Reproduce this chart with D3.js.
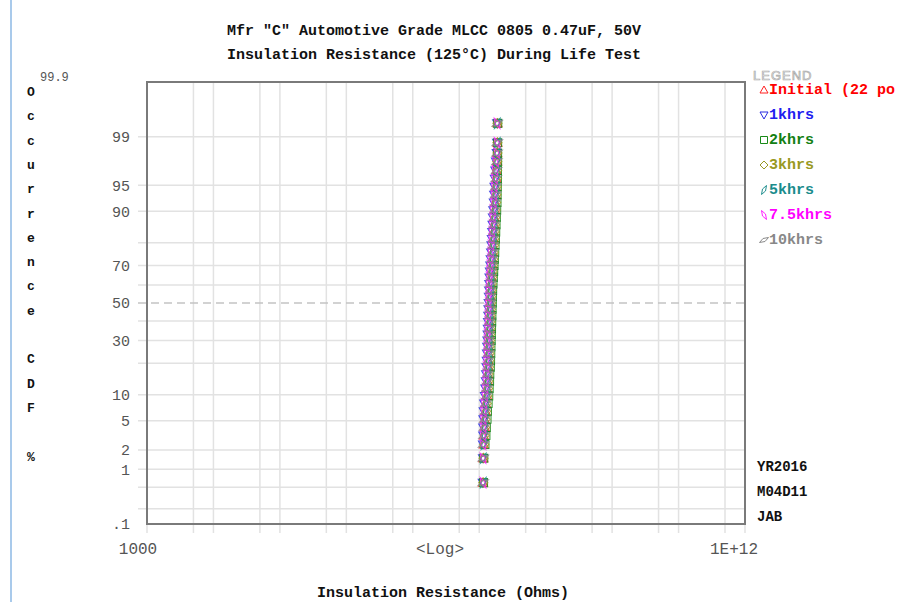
<!DOCTYPE html>
<html>
<head>
<meta charset="utf-8">
<script src="https://cdn.jsdelivr.net/npm/d3@7"></script>
<style>
  html, body { margin: 0; padding: 0; background: #fff; overflow: hidden; }
</style>
</head>
<body>
<svg id="chart" width="898" height="602"></svg>
<script>
// ======================
// DATA
// ======================
// cumulative occurrence (%) of each ranked point, shared by every series
const occurrencePct = [0.6, 1.5, 2.4, 3.2, 4.1, 5.2, 6.5, 8, 9.7, 11.6, 13.7, 16, 18.5, 21, 24, 27,
  30, 33, 36, 39.5, 43, 46.5, 50, 53.5, 57, 60.5, 64, 67, 70, 73, 76, 79, 81.5, 84, 86.3, 88.4,
  90.3, 92, 93.5, 94.8, 95.9, 96.8, 97.6, 98.2, 98.75, 99.4];

// insulation resistance, in units of 1E+08 ohms, sorted low to high
const initialIR = [1.14, 1.15, 1.17, 1.17, 1.21, 1.21, 1.25, 1.26, 1.31, 1.31, 1.35, 1.35, 1.38, 1.38, 1.40, 1.40,
  1.42, 1.42, 1.44, 1.44, 1.46, 1.46, 1.48, 1.48, 1.50, 1.50, 1.53, 1.53, 1.57, 1.57, 1.61, 1.61, 1.65, 1.65,
  1.69, 1.69, 1.73, 1.74, 1.78, 1.78, 1.82, 1.82, 1.86, 1.86, 1.88, 1.88];
const ir1k = [1.13, 1.14, 1.14, 1.15, 1.15, 1.16, 1.17, 1.19, 1.22, 1.24, 1.26, 1.27, 1.29, 1.30, 1.31, 1.32,
  1.33, 1.34, 1.35, 1.36, 1.37, 1.38, 1.39, 1.40, 1.41, 1.42, 1.43, 1.45, 1.47, 1.49, 1.51, 1.53, 1.55, 1.57,
  1.59, 1.61, 1.63, 1.66, 1.68, 1.70, 1.72, 1.75, 1.79, 1.84, 1.86, 1.86];
const ir2k = [1.16, 1.17, 1.22, 1.26, 1.28, 1.31, 1.33, 1.36, 1.39, 1.41, 1.43, 1.44, 1.47, 1.48, 1.49, 1.50,
  1.51, 1.52, 1.53, 1.54, 1.55, 1.56, 1.57, 1.58, 1.59, 1.61, 1.63, 1.65, 1.67, 1.69, 1.71, 1.73, 1.75, 1.77,
  1.79, 1.81, 1.83, 1.85, 1.86, 1.87, 1.88, 1.88, 1.89, 1.89, 1.89, 1.90];
const ir3k = [1.15, 1.16, 1.19, 1.21, 1.23, 1.25, 1.27, 1.30, 1.33, 1.36, 1.38, 1.39, 1.41, 1.42, 1.43, 1.44,
  1.45, 1.46, 1.47, 1.48, 1.49, 1.50, 1.51, 1.52, 1.53, 1.55, 1.57, 1.59, 1.61, 1.63, 1.65, 1.67, 1.69, 1.71,
  1.73, 1.75, 1.77, 1.80, 1.82, 1.84, 1.85, 1.86, 1.87, 1.88, 1.88, 1.88];
const ir5k = [1.15, 1.15, 1.18, 1.20, 1.22, 1.24, 1.26, 1.29, 1.32, 1.34, 1.36, 1.37, 1.39, 1.40, 1.41, 1.42,
  1.43, 1.44, 1.45, 1.46, 1.47, 1.48, 1.49, 1.50, 1.51, 1.52, 1.54, 1.56, 1.58, 1.60, 1.62, 1.64, 1.66, 1.68,
  1.70, 1.72, 1.75, 1.78, 1.80, 1.82, 1.83, 1.85, 1.86, 1.87, 1.87, 1.87];
const ir7500 = [1.14, 1.14, 1.14, 1.14, 1.15, 1.15, 1.16, 1.18, 1.21, 1.23, 1.25, 1.26, 1.27, 1.28, 1.29, 1.30,
  1.31, 1.32, 1.33, 1.34, 1.35, 1.36, 1.37, 1.38, 1.39, 1.40, 1.41, 1.43, 1.45, 1.47, 1.49, 1.51, 1.53, 1.55,
  1.57, 1.59, 1.61, 1.64, 1.66, 1.68, 1.70, 1.73, 1.77, 1.83, 1.86, 1.86];
const ir10k = [1.15, 1.15, 1.16, 1.18, 1.20, 1.21, 1.24, 1.26, 1.30, 1.31, 1.33, 1.35, 1.36, 1.38, 1.39, 1.40,
  1.41, 1.42, 1.43, 1.44, 1.45, 1.46, 1.47, 1.48, 1.49, 1.50, 1.52, 1.54, 1.56, 1.58, 1.60, 1.62, 1.64, 1.66,
  1.68, 1.70, 1.72, 1.75, 1.77, 1.79, 1.81, 1.83, 1.85, 1.86, 1.87, 1.87];
const irUnit = 1e8;

// legend labels as they show inside the window (the first runs off the right edge)
const seriesNames = ["Initial (22 po", "1khrs", "2khrs", "3khrs", "5khrs", "7.5khrs", "10khrs"];
const seriesValues = [initialIR, ir1k, ir2k, ir3k, ir5k, ir7500, ir10k];

// axis ticks / grid
const yTickLabels = [0.1, 1, 2, 5, 10, 30, 50, 70, 90, 95, 99];
const yGridPct = [0.2, 0.5, 1, 2, 5, 10, 20, 30, 40, 60, 70, 80, 90, 95, 99];
const xGridOhms = [1e3, 5e3, 1e4, 5e4, 1e5, 5e5, 1e6, 5e6, 1e7, 5e7, 1e8, 5e8, 1e9, 5e9,
  1e10, 5e10, 1e11, 5e11, 1e12];
const yLetters = ["O", "c", "c", "u", "r", "r", "e", "n", "c", "e", "", "C", "D", "F", "", "%"];
const stamp = ["YR2016", "M04D11", "JAB"];

// ======================
// STYLE
// ======================
const colors = ["#ff2020", "#2a2ae0", "#188a18", "#9a9a22", "#1f8e8e", "#ff22ff", "#8a8a8a"];
const textColors = ["#ff0000", "#2020f0", "#138013", "#999922", "#1a8c8c", "#ff00ff", "#888888"];
const symbolPaths = [
  "M0,-4L4,3L-4,3Z",                 // triangle up
  "M0,4L4,-3L-4,-3Z",                // triangle down
  "M-3.5,-3.5h7v7h-7Z",              // square
  "M0,-4L4,0L0,4L-4,0Z",             // diamond
  "M2.5,-4.5L1.5,1L-2.5,4.5L-1.5,-1Z",
  "M-2.5,-4.5L-1.5,1L2.5,4.5L1.5,-1Z",
  "M4.5,-2.5L1,1.5L-4.5,2.5L-1,-1.5Z"
];
const mono = "'Liberation Mono', 'DejaVu Sans Mono', monospace";
const box = { left: 147, right: 745, top: 82, bottom: 524 };

// inverse normal CDF (probability paper transform)
function probit(p) {
  const a = [-3.969683028665376e+01, 2.209460984245205e+02, -2.759285104469687e+02,
    1.383577518672690e+02, -3.066479806614716e+01, 2.506628277459239e+00];
  const b = [-5.447609879822406e+01, 1.615858368580409e+02, -1.556989798598866e+02,
    6.680131188771972e+01, -1.328068155288572e+01];
  const c = [-7.784894002430293e-03, -3.223964580411365e-01, -2.400758277161838e+00,
    -2.549732539343734e+00, 4.374664141464968e+00, 2.938163982698783e+00];
  const d = [7.784695709041462e-03, 3.224671290700398e-01, 2.445134137142996e+00,
    3.754408661907416e+00];
  const pl = 0.02425;
  if (p < pl || p > 1 - pl) {
    const q = Math.sqrt(-2 * Math.log(p < pl ? p : 1 - p));
    const v = (((((c[0] * q + c[1]) * q + c[2]) * q + c[3]) * q + c[4]) * q + c[5]) /
      ((((d[0] * q + d[1]) * q + d[2]) * q + d[3]) * q + 1);
    return p < pl ? v : -v;
  }
  const q = p - 0.5, r = q * q;
  return (((((a[0] * r + a[1]) * r + a[2]) * r + a[3]) * r + a[4]) * r + a[5]) * q /
    (((((b[0] * r + b[1]) * r + b[2]) * r + b[3]) * r + b[4]) * r + 1);
}

// ======================
// SCALES
// ======================
const x = d3.scaleLog().domain([1e3, 1e12]).range([box.left, box.right]);
const z = d3.scaleLinear().domain([probit(0.001), probit(0.999)]).range([box.bottom, box.top]);
const y = pct => z(probit(pct / 100));

const svg = d3.select("#chart");

// window edge
svg.append("line").attr("x1", 11).attr("x2", 11).attr("y1", 0).attr("y2", 602)
  .attr("stroke", "#8cb8e4").attr("stroke-width", 1.5);

// ======================
// GRID
// ======================
svg.append("g").selectAll("line").data(yGridPct).enter().append("line")
  .attr("x1", box.left - 9).attr("x2", box.right)
  .attr("y1", d => y(d)).attr("y2", d => y(d))
  .attr("stroke", "#e2e2e2").attr("stroke-width", 1.5);

svg.append("g").selectAll("line").data(xGridOhms).enter().append("line")
  .attr("x1", d => x(d)).attr("x2", d => x(d))
  .attr("y1", box.top).attr("y2", box.bottom + 9)
  .attr("stroke", "#e2e2e2").attr("stroke-width", 1.5);

// 50% reference line
svg.append("line")
  .attr("x1", box.left - 9).attr("x2", box.right)
  .attr("y1", y(50)).attr("y2", y(50))
  .attr("stroke", "#c4c4c4").attr("stroke-width", 1.5)
  .attr("stroke-dasharray", "8,5");

// frame
svg.append("rect")
  .attr("x", box.left).attr("y", box.top)
  .attr("width", box.right - box.left).attr("height", box.bottom - box.top)
  .attr("fill", "none").attr("stroke", "#7a7a7a").attr("stroke-width", 2);

// ======================
// AXIS TEXT
// ======================
svg.append("g").selectAll("text").data(yTickLabels).enter().append("text")
  .attr("x", 130).attr("y", d => y(d)).attr("dy", "0.35em")
  .attr("text-anchor", "end")
  .style("font", `15px ${mono}`).attr("fill", "#555")
  .text(d => d < 1 ? ".1" : d);

svg.append("text").attr("x", 40).attr("y", 81)
  .style("font", `12px ${mono}`).attr("fill", "#555").text("99.9");

svg.append("g").selectAll("text").data(yLetters).enter().append("text")
  .attr("x", 31).attr("y", (d, i) => 96 + i * 24.3)
  .attr("text-anchor", "middle")
  .style("font", `bold 13px ${mono}`).attr("fill", "#111")
  .text(d => d);

svg.append("text").attr("x", x(1e3) - 9).attr("y", 554).attr("text-anchor", "middle")
  .style("font", `16px ${mono}`).attr("fill", "#555").text("1000");
svg.append("text").attr("x", x(1e12) - 11).attr("y", 554).attr("text-anchor", "middle")
  .style("font", `16px ${mono}`).attr("fill", "#555").text("1E+12");
svg.append("text").attr("x", 440).attr("y", 554).attr("text-anchor", "middle")
  .style("font", `16px ${mono}`).attr("fill", "#555").text("<Log>");

svg.append("text").attr("x", 443).attr("y", 597).attr("text-anchor", "middle")
  .style("font", `bold 15px ${mono}`).attr("fill", "#111").text("Insulation Resistance (Ohms)");

// titles
svg.append("text").attr("x", 434).attr("y", 35).attr("text-anchor", "middle")
  .style("font", `bold 15px ${mono}`).attr("fill", "#111")
  .text('Mfr "C" Automotive Grade MLCC 0805 0.47uF, 50V');
svg.append("text").attr("x", 434).attr("y", 59).attr("text-anchor", "middle")
  .style("font", `bold 15px ${mono}`).attr("fill", "#111")
  .text("Insulation Resistance (125°C) During Life Test");

// date stamp
svg.append("g").selectAll("text").data(stamp).enter().append("text")
  .attr("x", 757).attr("y", (d, i) => 471 + i * 25)
  .style("font", `bold 14px ${mono}`).attr("fill", "#111")
  .text(d => d);

// ======================
// POINTS
// ======================
seriesValues.forEach((values, s) => {
  svg.append("g").selectAll("path").data(values).enter().append("path")
    .attr("transform", (d, i) => `translate(${x(d * irUnit)},${y(occurrencePct[i])}) scale(1.15)`)
    .attr("d", symbolPaths[s])
    .attr("fill", "none")
    .attr("stroke", colors[s])
    .attr("stroke-width", 0.9)
    .attr("stroke-opacity", 0.85);
});

// ======================
// LEGEND
// ======================
svg.append("text").attr("x", 753).attr("y", 80)
  .style("font", "13px 'Liberation Sans', sans-serif").style("letter-spacing", "1px")
  .attr("fill", "#fafafa").attr("stroke", "#a8a8a8").attr("stroke-width", 0.7)
  .text("LEGEND");

const legend = svg.append("g").selectAll("g").data(seriesNames).enter().append("g")
  .attr("transform", (d, i) => `translate(0,${89 + i * 25})`);
legend.append("path")
  .attr("transform", "translate(764,1)")
  .attr("d", (d, i) => symbolPaths[i])
  .attr("fill", "none").attr("stroke", (d, i) => colors[i]).attr("stroke-width", 1);
legend.append("text")
  .attr("x", 769).attr("dy", "0.35em")
  .style("font", `bold 15px ${mono}`)
  .attr("fill", (d, i) => textColors[i])
  .text(d => d);
</script>
</body>
</html>
